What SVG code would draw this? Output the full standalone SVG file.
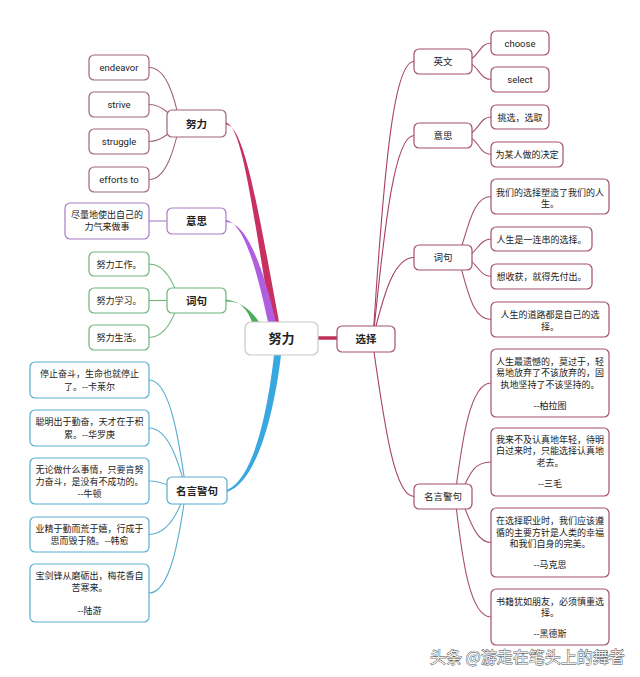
<svg xmlns="http://www.w3.org/2000/svg" width="640" height="677" viewBox="0 0 640 677">
<style>
text{font-family:"Noto Sans CJK SC","Noto Sans",sans-serif;fill:#222;text-anchor:middle}
.en{font-family:Roboto,"Noto Sans CJK SC",sans-serif;font-size:9.5px}
.lf{font-size:9px}
.lb{font-size:10.5px;font-weight:bold}
.rb{font-size:9.5px}
rect{fill:#fff;stroke-width:1.2}
.c0{stroke:#c8c8c8}
.cr{stroke:#a5506c}
.cm{stroke:#a0647f}
.cp{stroke:#a87cc6}
.cg{stroke:#6db47a}
.cb{stroke:#5aaed0}
.ln{fill:none;stroke-width:1.1}
.wm{font-size:16px;text-anchor:start;fill:#eee;stroke:#444;stroke-width:0.8;paint-order:stroke}
</style>
<rect x="0" y="0" width="640" height="677" style="fill:#fff;stroke:none"/>
<g id="connectors">
  <path d="M226,122.5 C241,127 250,190 271,322 L279,322 C255,190 243,126 226,124.5 Z" fill="#c8305f"/>
  <path d="M226,220 C244,223 257,270 268,322 L276,322 C263,268 247,222 226,222 Z" fill="#b05ee0"/>
  <path d="M226,299.5 C240,301 248,310 252,322 L259,322 C252,311 241,301 226,301.5 Z" fill="#4cae5c"/>
  <path d="M274,355 C269,400 256,478 227,490 L227,492 C260,481 276,400 281,355 Z" fill="#3aa8e0"/>
  <path d="M318,338 L337,338" stroke="#c0305a" stroke-width="3.5" fill="none"/>
  <g class="ln" stroke="#a0647f">
    <path d="M149,67.5 C166,67.5 174,95 180,123.5"/>
    <path d="M149,104.5 C162,104.5 170,115 180,123.5"/>
    <path d="M149,141.5 C162,141.5 170,132 180,123.5"/>
    <path d="M149,179.5 C166,179.5 174,150 180,123.5"/>
  </g>
  <path class="ln" stroke="#a87cc6" d="M149,221 L167,221"/>
  <g class="ln" stroke="#6db47a">
    <path d="M149,264 C166,264 174,285 180,300.5"/>
    <path d="M149,300.5 L170,300.5"/>
    <path d="M149,337.5 C166,337.5 174,316 180,300.5"/>
  </g>
  <g class="ln" stroke="#5aaed0">
    <path d="M149,380 C170,380 179,440 186,490"/>
    <path d="M149,428 C168,428 178,460 186,490"/>
    <path d="M149,481 C165,481 175,490 186,490"/>
    <path d="M149,534.5 C166,534.5 178,515 186,490"/>
    <path d="M149,593 C170,593 179,540 186,490"/>
  </g>
  <g class="ln" stroke="#a8405f">
    <path d="M373,339 C385,150 395,61.5 414,61.5"/>
    <path d="M373,339 C385,220 395,135.5 414,135.5"/>
    <path d="M375,330 C385,290 395,257.5 414,257.5"/>
    <path d="M373,345 C385,430 395,496.5 414,496.5"/>
  </g>
  <g class="ln" stroke="#a5506c">
    <path d="M462,61.5 C479,61.5 478,43 491,43"/>
    <path d="M462,61.5 C479,61.5 478,79.5 491,79.5"/>
    <path d="M462,135.5 C479,135.5 478,117 491,117"/>
    <path d="M462,135.5 C479,135.5 478,154.5 491,154.5"/>
    <path d="M458,257.5 C468,230 472,196.5 491,196.5"/>
    <path d="M462,257.5 C476,257.5 478,239 491,239"/>
    <path d="M462,257.5 C476,257.5 478,276.5 491,276.5"/>
    <path d="M458,257.5 C468,290 472,319.5 491,319.5"/>
    <path d="M455,496.5 C462,440 470,383 491,383"/>
    <path d="M460,496.5 C470,470 476,462 491,462"/>
    <path d="M460,496.5 C470,520 476,542.5 491,542.5"/>
    <path d="M455,496.5 C462,560 470,617 491,617"/>
  </g>
</g>
<g id="n-center"><rect class="c0" x="245" y="322" width="73" height="33" rx="6"/><text x="281.5" y="343" style="font-size:13px;font-weight:bold">努力</text></g>
<g id="n-xuanze"><rect class="cr" x="337" y="326" width="58" height="26" rx="5"/><text x="366" y="342.5" style="font-size:10.5px;font-weight:bold">选择</text></g>

<g id="l-nuli"><rect class="cm" x="167" y="110" width="59" height="27" rx="5"/><text class="lb" x="196.5" y="127.5">努力</text></g>
<g id="l-endeavor"><rect class="cm" x="89" y="55" width="60" height="25" rx="5"/><text class="en" x="119" y="71">endeavor</text></g>
<g id="l-strive"><rect class="cm" x="89" y="92" width="60" height="25" rx="5"/><text class="en" x="119" y="108">strive</text></g>
<g id="l-struggle"><rect class="cm" x="89" y="129" width="60" height="25" rx="5"/><text class="en" x="119" y="145">struggle</text></g>
<g id="l-efforts"><rect class="cm" x="89" y="167" width="60" height="25" rx="5"/><text class="en" x="119" y="183">efforts to</text></g>

<g id="l-yisi"><rect class="cp" x="167" y="208" width="59" height="26" rx="5"/><text class="lb" x="196.5" y="225">意思</text></g>
<g id="l-yisi-1"><rect class="cp" x="65" y="203" width="84" height="36" rx="5"/><text class="lf" x="107" y="218">尽量地使出自己的</text><text class="lf" x="107" y="229.5">力气来做事</text></g>

<g id="l-ciju"><rect class="cg" x="167" y="288" width="59" height="25" rx="5"/><text class="lb" x="196.5" y="304.5">词句</text></g>
<g id="l-ciju-1"><rect class="cg" x="89" y="252" width="60" height="24" rx="5"/><text class="lf" x="119" y="267.5">努力工作。</text></g>
<g id="l-ciju-2"><rect class="cg" x="89" y="288" width="60" height="25" rx="5"/><text class="lf" x="119" y="304">努力学习。</text></g>
<g id="l-ciju-3"><rect class="cg" x="89" y="325" width="60" height="25" rx="5"/><text class="lf" x="119" y="341">努力生活。</text></g>

<g id="l-mingyan"><rect class="cb" x="167" y="477" width="60" height="27" rx="5"/><text class="lb" x="197" y="494.5">名言警句</text></g>
<g id="l-my-1"><rect class="cb" x="30" y="362" width="119" height="36" rx="5"/><text class="lf" x="89.5" y="377">停止奋斗，生命也就停止</text><text class="lf" x="89.5" y="389.5">了。--卡莱尔</text></g>
<g id="l-my-2"><rect class="cb" x="30" y="410" width="119" height="36" rx="5"/><text class="lf" x="89.5" y="425">聪明出于勤奋，天才在于积</text><text class="lf" x="89.5" y="437.5">累。--华罗庚</text></g>
<g id="l-my-3"><rect class="cb" x="30" y="458" width="119" height="46" rx="5"/><text class="lf" x="89.5" y="472.5">无论做什么事情，只要肯努</text><text class="lf" x="89.5" y="484.5">力奋斗，是没有不成功的。</text><text class="lf" x="89.5" y="496.5">--牛顿</text></g>
<g id="l-my-4"><rect class="cb" x="30" y="517" width="119" height="35" rx="5"/><text class="lf" x="89.5" y="531.5">业精于勤而荒于嬉，行成于</text><text class="lf" x="89.5" y="543.5">思而毁于随。--韩愈</text></g>
<g id="l-my-5"><rect class="cb" x="30" y="564" width="119" height="58" rx="5"/><text class="lf" x="89.5" y="578.5">宝剑锋从磨砺出，梅花香自</text><text class="lf" x="89.5" y="590.5">苦寒来。</text><text class="lf" x="89.5" y="613.5">--陆游</text></g>

<g id="r-yingwen"><rect class="cr" x="414" y="49" width="58" height="25" rx="5"/><text class="rb" x="443" y="65">英文</text></g>
<g id="r-choose"><rect class="cr" x="491" y="31" width="58" height="24" rx="5"/><text class="en" x="520" y="46.5">choose</text></g>
<g id="r-select"><rect class="cr" x="491" y="67" width="58" height="25" rx="5"/><text class="en" x="520" y="83">select</text></g>

<g id="r-yisi"><rect class="cr" x="414" y="123" width="58" height="25" rx="5"/><text class="rb" x="443" y="139">意思</text></g>
<g id="r-yisi-1"><rect class="cr" x="491" y="105" width="58" height="24" rx="5"/><text class="lf" x="520" y="120.5">挑选，选取</text></g>
<g id="r-yisi-2"><rect class="cr" x="491" y="142" width="72" height="25" rx="5"/><text class="lf" x="527" y="158">为某人做的决定</text></g>

<g id="r-ciju"><rect class="cr" x="414" y="245" width="58" height="25" rx="5"/><text class="rb" x="443" y="261">词句</text></g>
<g id="r-ciju-1"><rect class="cr" x="491" y="179" width="118" height="35" rx="5"/><text class="lf" x="550" y="195.5">我们的选择塑造了我们的人</text><text class="lf" x="550" y="207">生。</text></g>
<g id="r-ciju-2"><rect class="cr" x="491" y="227" width="101" height="24" rx="5"/><text class="lf" x="541.5" y="242.5">人生是一连串的选择。</text></g>
<g id="r-ciju-3"><rect class="cr" x="491" y="264" width="101" height="25" rx="5"/><text class="lf" x="541.5" y="280">想收获，就得先付出。</text></g>
<g id="r-ciju-4"><rect class="cr" x="491" y="302" width="118" height="35" rx="5"/><text class="lf" x="550" y="318">人生的道路都是自己的选</text><text class="lf" x="550" y="329.5">择。</text></g>

<g id="r-mingyan"><rect class="cr" x="414" y="484" width="58" height="25" rx="5"/><text class="rb" x="443" y="500">名言警句</text></g>
<g id="r-my-1"><rect class="cr" x="491" y="349" width="118" height="68" rx="5"/><text class="lf" x="550" y="364.5">人生最遗憾的，莫过于，轻</text><text class="lf" x="550" y="376">易地放弃了不该放弃的，固</text><text class="lf" x="550" y="387.5">执地坚持了不该坚持的。</text><text class="lf" x="550" y="408.5">--柏拉图</text></g>
<g id="r-my-2"><rect class="cr" x="491" y="428" width="118" height="68" rx="5"/><text class="lf" x="550" y="442.5">我来不及认真地年轻，待明</text><text class="lf" x="550" y="454">白过来时，只能选择认真地</text><text class="lf" x="550" y="465.5">老去。</text><text class="lf" x="550" y="487.3">--三毛</text></g>
<g id="r-my-3"><rect class="cr" x="491" y="508" width="118" height="69" rx="5"/><text class="lf" x="550" y="524">在选择职业时，我们应该遵</text><text class="lf" x="550" y="535.5">循的主要方针是人类的幸福</text><text class="lf" x="550" y="547">和我们自身的完美。</text><text class="lf" x="550" y="567.5">--马克思</text></g>
<g id="r-my-4"><rect class="cr" x="491" y="589" width="118" height="56" rx="5"/><text class="lf" x="550" y="604.5">书籍犹如朋友，必须慎重选</text><text class="lf" x="550" y="616">择。</text><text class="lf" x="550" y="637">--黑德斯</text></g>

<text class="wm" x="430" y="663">头条 @游走在笔头上的舞者</text>
</svg>
